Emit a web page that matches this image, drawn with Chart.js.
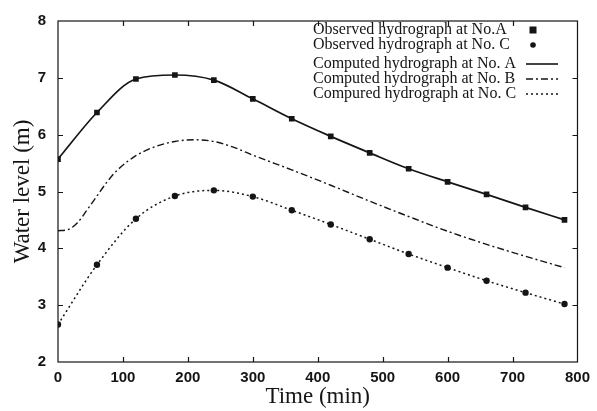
<!DOCTYPE html>
<html>
<head>
<meta charset="utf-8">
<script src="https://cdn.jsdelivr.net/npm/chart.js@4"></script>
<style>
  html, body { margin: 0; padding: 0; background: #fff; }
</style>
</head>
<body>
<canvas id="myChart" width="597" height="411"></canvas>
<script>
// observed points (min, m)
const obsTimes = [0, 60, 120, 180, 240, 300, 360, 420, 480, 540, 600, 660, 720, 780];
const obsA = [5.57, 6.39, 6.98, 7.05, 6.96, 6.63, 6.28, 5.97, 5.68, 5.40, 5.17, 4.95, 4.72, 4.50];
const obsC = [2.66, 3.71, 4.52, 4.92, 5.02, 4.91, 4.67, 4.42, 4.16, 3.90, 3.66, 3.43, 3.22, 3.02];

// computed hydrographs
const compATimes = [0, 60, 120, 180, 240, 300, 360, 420, 480, 540, 600, 660, 720, 780];
const compA = [5.57, 6.39, 6.98, 7.05, 6.96, 6.63, 6.28, 5.97, 5.68, 5.40, 5.17, 4.95, 4.72, 4.50];
const compBTimes = [0, 15, 30, 45, 60, 75, 90, 120, 150, 180, 210, 240, 270, 300, 360, 420, 480, 540, 600, 660, 720, 780];
const compB = [4.31, 4.33, 4.45, 4.68, 4.92, 5.16, 5.36, 5.63, 5.79, 5.88, 5.91, 5.88, 5.78, 5.64, 5.38, 5.11, 4.83, 4.56, 4.30, 4.07, 3.86, 3.66];
const compCTimes = [0, 60, 120, 180, 240, 300, 360, 420, 480, 540, 600, 660, 720, 780];
const compC = [2.66, 3.71, 4.52, 4.92, 5.02, 4.91, 4.67, 4.42, 4.16, 3.90, 3.66, 3.43, 3.22, 3.02];

const xTicks = [0, 100, 200, 300, 400, 500, 600, 700, 800];
const yTicks = [2, 3, 4, 5, 6, 7, 8];

const legendLabels = [
  'Observed hydrograph at No.A',
  'Observed hydrograph at No. C',
  'Computed hydrograph at No. A',
  'Computed hydrograph at No. B',
  'Compured hydrograph at No. C'
];

const ink = '#151515';
const pts = (xs, ys) => xs.map((t, i) => ({ x: t, y: ys[i] }));

// box, inward ticks and the key drawn like the original plot
const framePlugin = {
  id: 'frame',
  afterDraw(chart) {
    const { ctx, chartArea: a, scales: { x, y } } = chart;
    ctx.save();
    ctx.strokeStyle = ink;
    ctx.lineWidth = 1.2;
    ctx.strokeRect(a.left, a.top, a.right - a.left, a.bottom - a.top);
    ctx.beginPath();
    xTicks.slice(1, -1).forEach(v => {
      const px = Math.round(x.getPixelForValue(v)) + 0.5;
      ctx.moveTo(px, a.bottom); ctx.lineTo(px, a.bottom - 5);
      ctx.moveTo(px, a.top); ctx.lineTo(px, a.top + 5);
    });
    yTicks.slice(1, -1).forEach(v => {
      const py = Math.round(y.getPixelForValue(v)) + 0.5;
      ctx.moveTo(a.left, py); ctx.lineTo(a.left + 5, py);
      ctx.moveTo(a.right, py); ctx.lineTo(a.right - 5, py);
    });
    ctx.stroke();

    // key
    const rows = [30, 45, 64, 79, 94];
    ctx.font = '16px "Liberation Serif"';
    ctx.fillStyle = ink;
    ctx.textBaseline = 'middle';
    ctx.textAlign = 'left';
    legendLabels.forEach((t, i) => ctx.fillText(t, 313, rows[i]));
    ctx.fillRect(529.5, rows[0] - 3.5, 7, 7);
    ctx.beginPath();
    ctx.arc(533, rows[1], 2.8, 0, Math.PI * 2);
    ctx.fill();
    const dashes = [[], [7, 3, 2, 3], [2, 3]];
    dashes.forEach((d, i) => {
      ctx.setLineDash(d);
      ctx.lineWidth = i === 0 ? 1.6 : 1.3;
      ctx.beginPath();
      ctx.moveTo(526, rows[i + 2]);
      ctx.lineTo(558, rows[i + 2]);
      ctx.stroke();
    });
    ctx.restore();
  }
};

const ctx = document.getElementById('myChart');

new Chart(ctx, {
  type: 'line',
  data: {
    datasets: [
      {
        label: legendLabels[2],
        data: pts(compATimes, compA),
        borderColor: ink,
        borderWidth: 1.7,
        pointRadius: 0,
        cubicInterpolationMode: 'monotone'
      },
      {
        label: legendLabels[3],
        data: pts(compBTimes, compB),
        borderColor: ink,
        borderWidth: 1.4,
        borderDash: [7, 3, 2, 3],
        pointRadius: 0,
        cubicInterpolationMode: 'monotone'
      },
      {
        label: legendLabels[4],
        data: pts(compCTimes, compC),
        borderColor: ink,
        borderWidth: 1.5,
        borderDash: [2, 3],
        pointRadius: 0,
        cubicInterpolationMode: 'monotone'
      },
      {
        label: legendLabels[0],
        data: pts(obsTimes, obsA),
        showLine: false,
        pointStyle: 'rect',
        pointRadius: 4,
        pointBackgroundColor: ink,
        pointBorderColor: ink,
        pointBorderWidth: 0
      },
      {
        label: legendLabels[1],
        data: pts(obsTimes, obsC),
        showLine: false,
        pointStyle: 'circle',
        pointRadius: 3.2,
        pointBackgroundColor: ink,
        pointBorderColor: ink,
        pointBorderWidth: 0
      }
    ]
  },
  options: {
    responsive: false,
    animation: false,
    layout: { padding: { top: 18, right: 18, left: 0, bottom: 0 } },
    plugins: { legend: { display: false }, tooltip: { enabled: false } },
    scales: {
      x: {
        type: 'linear',
        min: 0,
        max: 800,
        afterBuildTicks: s => { s.ticks = xTicks.map(v => ({ value: v })); },
        afterFit: s => { s.height = 49; },
        grid: { display: false, drawTicks: false },
        border: { display: false },
        ticks: { font: { family: 'Liberation Sans', weight: 'bold', size: 15 }, color: ink, padding: 7, maxRotation: 0 },
        title: { display: true, text: 'Time (min)', font: { family: 'Liberation Serif', size: 23 }, color: ink, padding: { top: 0, bottom: 0 } }
      },
      y: {
        type: 'linear',
        min: 2,
        max: 8,
        afterBuildTicks: s => { s.ticks = yTicks.map(v => ({ value: v })); },
        afterFit: s => { s.width = 58; },
        grid: { display: false, drawTicks: false },
        border: { display: false },
        ticks: { font: { family: 'Liberation Sans', weight: 'bold', size: 15 }, color: ink, padding: 12 },
        title: { display: true, text: 'Water level (m)', font: { family: 'Liberation Serif', size: 23 }, color: ink, padding: { top: 9, bottom: 0 } }
      }
    }
  },
  plugins: [framePlugin]
});
</script>
</body>
</html>
